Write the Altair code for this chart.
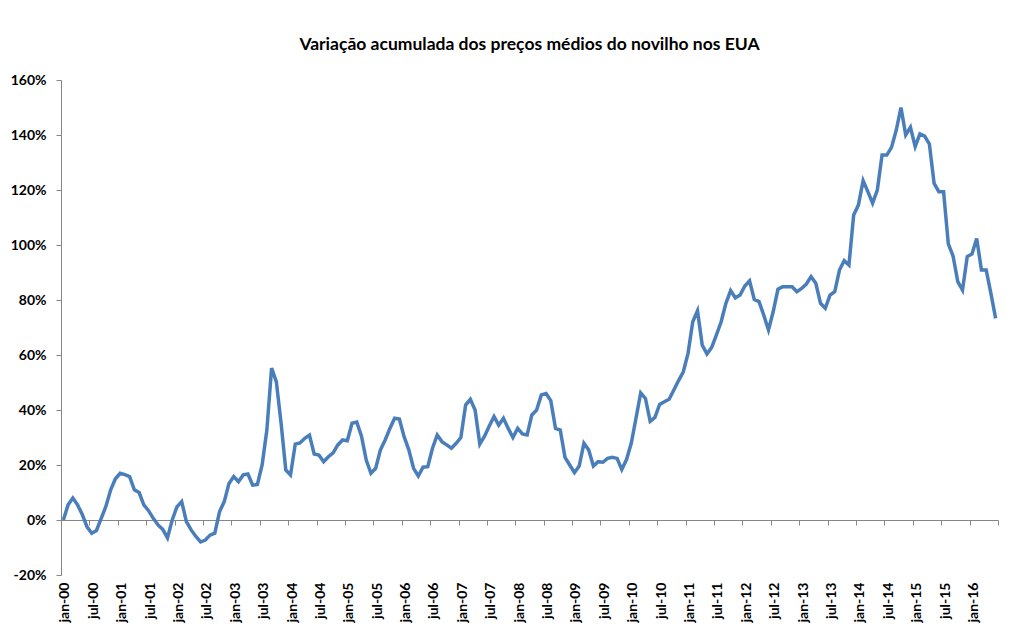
import altair as alt
import pandas as pd

meses = ["jan", "fev", "mar", "abr", "mai", "jun", "jul", "ago", "set", "out", "nov", "dez"]
categorias = [f"{m}-{a:02d}" for a in range(0, 17) for m in meses][:198]

variacao = [
    0, 5.5, 8, 5.5, 2, -2.5, -4.8, -3.8, 0.6, 5, 11, 15,
    17, 16.5, 15.8, 11, 10, 5.5, 3.4, 0.6, -1.8, -3.4, -6.5, 0,
    4.8, 6.7, -0.6, -3.6, -6, -8, -7.3, -5.5, -4.8, 3, 6.7, 13.3,
    15.8, 13.9, 16.4, 16.7, 12.7, 12.9, 20, 32.7, 55.2, 50.3, 35.3, 18.2,
    16.4, 27.6, 28, 29.7, 30.9, 24, 23.6, 21.2, 23, 24.4, 27.3, 29.1,
    28.8, 35.2, 35.6, 30.5, 21.8, 17, 18.8, 25.5, 29.1, 33.3, 37, 36.7,
    30.3, 25.5, 18.8, 16, 19.2, 19.4, 26.1, 30.9, 28.5, 27.3, 26.1, 27.9,
    30, 41.8, 43.9, 40, 27.6, 30.5, 34.2, 37.6, 34.5, 37, 33.3, 30,
    33.3, 31.3, 30.9, 38.2, 40, 45.5, 46, 43.4, 33.3, 32.7, 22.8, 20,
    17.2, 19.6, 27.9, 25.5, 19.6, 21.2, 21, 22.4, 22.8, 22.4, 18.4, 22,
    27.9, 37, 46.2, 44.2, 35.9, 37.3, 42, 43, 43.9, 47.3, 50.7, 53.9,
    60.6, 72.1, 76.1, 63.6, 60.4, 62.8, 67.3, 72.1, 78.8, 83.4, 80.8, 81.8,
    85.1, 87, 80.2, 79.4, 74.5, 69.1, 75.8, 83.9, 84.8, 84.8, 84.8, 83,
    84.2, 85.8, 88.5, 86.1, 78.8, 77, 81.8, 83, 90.9, 94.3, 92.7, 110.9,
    114.5, 123.4, 119.4, 115.2, 120, 132.7, 132.7, 135.5, 141.8, 150, 140, 142.8,
    135.8, 140.4, 139.6, 136.7, 122.4, 119.4, 119.4, 100.4, 96, 86.7, 83.6, 95.8,
    96.7, 102.4, 90.9, 90.9, 82.4, 73.3,
]

rotulos_y = list(range(-20, 161, 20))

N = len(categorias)
indices = list(range(N))
pos_rotulos_x = [i for i, c in enumerate(categorias) if c[:3] in ("jan", "jul")]
pos_marcas_x = [p - 0.5 for p in pos_rotulos_x] + [N - 0.5]
rotulo_expr = "[" + ",".join(f"'{c}'" for c in categorias) + "][datum.value]"

df = pd.DataFrame({"i": indices, "mes": categorias, "variacao": variacao})

W, H = 937, 495
Y_MIN, Y_MAX = -20, 160
FONT = "Lato"
GRAY = "#868686"

x_scale = alt.Scale(domain=[-0.5, N - 0.5], nice=False, zero=False)
y_scale = alt.Scale(domain=[Y_MIN, Y_MAX], nice=False, zero=False)

linha = alt.Chart(df).mark_line(color="#4A7EBB", strokeWidth=3.5).encode(
    x=alt.X(
        "i:Q", scale=x_scale, title=None,
        axis=alt.Axis(
            values=pos_rotulos_x, labelExpr=rotulo_expr, labelAngle=-90,
            labelAlign="right", labelBaseline="middle",
            domain=False, ticks=False, grid=False,
            labelPadding=7, labelFont=FONT, labelFontSize=14, orient="bottom",
            labelFontWeight="bold", labelColor="black",
            labelOverlap=False, labelBound=False, labelFlush=False,
            labelOffset=1.5,
        ),
    ),
    y=alt.Y(
        "variacao:Q", scale=y_scale, title=None,
        axis=alt.Axis(
            values=rotulos_y, labelExpr="datum.value + '%'", grid=False,
            domainColor=GRAY, tickColor=GRAY, tickSize=5, labelPadding=10,
            labelFont=FONT, labelFontSize=14, labelFontWeight="bold",
            labelColor="black",
        ),
    ),
)

eixo_zero = alt.Chart(df).mark_line(opacity=0).encode(
    x=alt.X(
        "i:Q", scale=x_scale, title=None,
        axis=alt.Axis(
            values=pos_marcas_x, labels=False,
            domainColor=GRAY, tickColor=GRAY, tickSize=5, grid=False,
            offset=-H * (0 - Y_MIN) / (Y_MAX - Y_MIN), orient="bottom",
        ),
    ),
    y=alt.Y("variacao:Q", scale=y_scale),
)

chart = (
    alt.layer(linha, eixo_zero)
    .resolve_axis(x="independent")
    .properties(
        width=W, height=H,
        title=alt.TitleParams(
            "Variação acumulada dos preços médios do novilho nos EUA",
            font=FONT, fontSize=17.5, fontWeight="bold", color="black",
            anchor="middle", offset=20,
        ),
        autosize=alt.AutoSizeParams(type="none"),
        padding={"left": 53, "top": 72, "right": 5, "bottom": 48},
    )
    .configure_view(stroke="transparent")
)

chart.save("out.html", embed_options={"renderer": "svg", "actions": False})
